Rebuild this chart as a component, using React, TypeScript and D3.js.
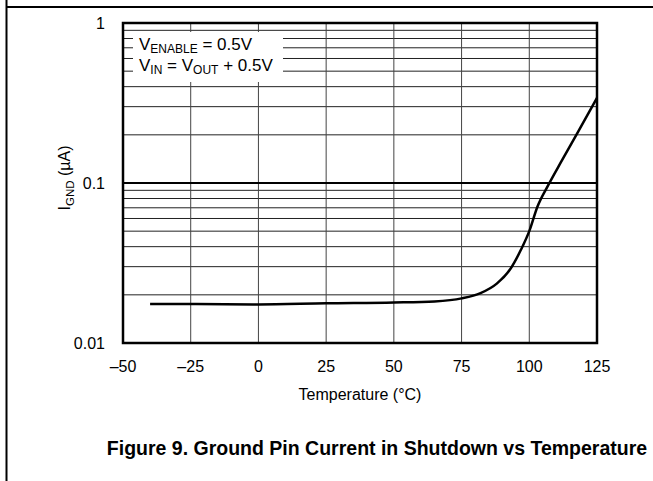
import React, { useEffect, useRef } from "react";
import * as d3 from "d3";

// Values
const temps = [-40, -25, 0, 25, 50, 65, 75, 82, 88, 93, 97, 100, 103, 107, 112, 118, 125];
const igndValues = [
  0.0175, 0.0175, 0.0174, 0.0177, 0.0179, 0.0182, 0.019, 0.0205, 0.0235, 0.029,
  0.0385, 0.05, 0.071, 0.097, 0.138, 0.209, 0.34,
];
const xTicks = [-50, -25, 0, 25, 50, 75, 100, 125];
const yTicks = [0.01, 0.1, 1];
const yTickLabels = ["0.01", "0.1", "1"];

const W = 653;
const H = 481;

const App: React.FC = () => {
  const svgRef = useRef<SVGSVGElement>(null);

  useEffect(() => {
    const svg = d3.select(svgRef.current);
    svg.selectAll("*").remove();

    const left = 123;
    const right = 597;
    const top = 23;
    const bottom = 343;

    const x = d3.scaleLinear().domain([-50, 125]).range([left, right]);
    const y = d3.scaleLog().domain([0.01, 1]).range([bottom, top]);

    const font = "Arial, 'Liberation Sans', Helvetica, sans-serif";

    // page frame
    svg.append("line").attr("x1", 6.5).attr("x2", 6.5).attr("y1", 0).attr("y2", H)
      .attr("stroke", "#000").attr("stroke-width", 2);
    svg.append("line").attr("x1", 6.5).attr("x2", W).attr("y1", 7).attr("y2", 7)
      .attr("stroke", "#000").attr("stroke-width", 2);

    const grid = svg.append("g");

    // minor horizontal lines (2..9 in each decade)
    const minors: number[] = [];
    [0.01, 0.1].forEach((d) => {
      for (let k = 2; k <= 9; k++) minors.push(d * k);
    });
    grid.selectAll("line.minor").data(minors).enter().append("line")
      .attr("x1", left).attr("x2", right)
      .attr("y1", (d) => y(d)).attr("y2", (d) => y(d))
      .attr("stroke", "#222").attr("stroke-width", 1);

    // vertical grid
    grid.selectAll("line.vx").data(xTicks.slice(1, -1)).enter().append("line")
      .attr("x1", (d) => x(d)).attr("x2", (d) => x(d))
      .attr("y1", top).attr("y2", bottom)
      .attr("stroke", "#444").attr("stroke-width", 1);

    // decade line
    grid.append("line").attr("x1", left).attr("x2", right)
      .attr("y1", y(0.1)).attr("y2", y(0.1))
      .attr("stroke", "#000").attr("stroke-width", 2);

    // annotation box covers the grid
    svg.append("rect").attr("x", 133).attr("y", 32).attr("width", 150).attr("height", 50)
      .attr("fill", "#fff");

    const note = svg.append("g").attr("font-family", font).attr("fill", "#000");
    const t1 = note.append("text").attr("x", 139).attr("y", 50).attr("font-size", 17);
    t1.append("tspan").text("V");
    t1.append("tspan").attr("font-size", 12).attr("dy", 3).text("ENABLE");
    t1.append("tspan").attr("dy", -3).text(" = 0.5V");
    const t2 = note.append("text").attr("x", 139).attr("y", 71).attr("font-size", 17);
    t2.append("tspan").text("V");
    t2.append("tspan").attr("font-size", 12).attr("dy", 3).text("IN");
    t2.append("tspan").attr("dy", -3).text(" = V");
    t2.append("tspan").attr("font-size", 12).attr("dy", 3).text("OUT");
    t2.append("tspan").attr("dy", -3).text(" + 0.5V");

    // curve
    const line = d3.line<number>()
      .x((_, i) => x(temps[i]))
      .y((d) => y(d))
      .curve(d3.curveMonotoneX);
    svg.append("path").datum(igndValues).attr("d", line)
      .attr("fill", "none").attr("stroke", "#000").attr("stroke-width", 2.5);

    // plot frame
    svg.append("rect").attr("x", left).attr("y", top)
      .attr("width", right - left).attr("height", bottom - top)
      .attr("fill", "none").attr("stroke", "#000").attr("stroke-width", 2.5);

    // tick labels
    svg.selectAll("text.xt").data(xTicks).enter().append("text")
      .attr("x", (d) => x(d)).attr("y", 372)
      .attr("text-anchor", "middle").attr("font-family", font).attr("font-size", 16)
      .text((d) => (d < 0 ? `\u2013${Math.abs(d)}` : `${d}`));

    svg.selectAll("text.yt").data(yTicks).enter().append("text")
      .attr("x", 105).attr("y", (d) => y(d)).attr("dy", "0.36em")
      .attr("text-anchor", "end").attr("font-family", font).attr("font-size", 16)
      .text((_, i) => yTickLabels[i]);

    // axis titles
    svg.append("text").attr("x", (left + right) / 2).attr("y", 400)
      .attr("text-anchor", "middle").attr("font-family", font).attr("font-size", 16)
      .text("Temperature (\u00B0C)");

    const yt = svg.append("text").attr("transform", "translate(70,178) rotate(-90)")
      .attr("text-anchor", "middle").attr("font-family", font).attr("font-size", 16);
    yt.append("tspan").text("I");
    yt.append("tspan").attr("font-size", 11.5).attr("dy", 4).text("GND");
    yt.append("tspan").attr("dy", -4).text(" (\u00B5A)");

    // caption
    svg.append("text").attr("x", 377).attr("y", 455)
      .attr("text-anchor", "middle").attr("font-family", font)
      .attr("font-size", 19.5).attr("font-weight", "bold")
      .text("Figure 9. Ground Pin Current in Shutdown vs Temperature");
  }, []);

  return (
    <svg
      ref={svgRef}
      width={W}
      height={H}
      style={{ position: "absolute", left: 0, top: 0, background: "#fff" }}
    ></svg>
  );
};

export default App;
